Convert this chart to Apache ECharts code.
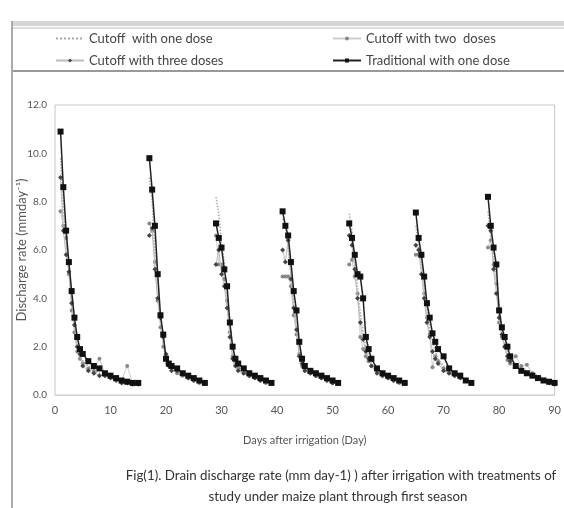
<!DOCTYPE html>
<html>
<head>
<meta charset="utf-8">
<script src="https://cdn.jsdelivr.net/npm/echarts@6/dist/echarts.min.js"></script>
<style>html,body{margin:0;padding:0;background:#fff;}#c{width:564px;height:508px;}</style>
</head>
<body>
<div id="c"></div>
<script>
// Days after irrigation; '-' entries in value arrays break the line between irrigation cycles
const days = [
  1,1.5,2,2.5,3,3.5,4,4.5,5,6,7,8,9,10,11,12,13,14,15, 16,
  17,17.5,18,18.5,19,19.5,20,20.5,21,22,23,24,25,26,27, 28,
  29,29.5,30,30.5,31,31.5,32,32.5,33,34,35,36,37,38,39, 40,
  41,41.5,42,42.5,43,43.5,44,44.5,45,46,47,48,49,50,51, 52,
  53,53.5,54,54.5,55,55.5,56,56.5,57,58,59,60,61,62,63, 64,
  65,65.5,66,66.5,67,67.5,68,68.5,69,70,71,72,73,74,75, 76.5,
  78,78.5,79,79.5,80,80.5,81,81.5,82,83,84,85,86,87,88,89,90
];
const cutoffOneDose = [
  9.8,7.6,6.3,5.2,4.0,2.8,2.0,1.6,1.4,1.2,1.0,0.9,0.8,0.7,0.6,0.55,0.5,0.5,0.5, '-',
  9.0,8.0,6.0,4.9,3.0,2.2,1.3,1.2,1.1,1.0,0.9,0.8,0.7,0.6,0.5, '-',
  8.2,7.5,6.3,5.5,4.0,2.8,1.8,1.4,1.2,1.0,0.9,0.8,0.7,0.6,0.5, '-',
  7.3,7.1,6.0,5.0,3.8,2.8,1.9,1.4,1.1,1.0,0.9,0.7,0.6,0.6,0.5, '-',
  7.5,6.8,5.5,4.4,3.4,2.6,2.0,1.6,1.3,1.0,0.9,0.8,0.7,0.6,0.5, '-',
  7.0,6.2,5.4,4.5,3.6,2.8,2.2,1.8,1.5,1.2,1.0,0.9,0.7,0.6,0.5, '-',
  7.6,6.5,5.8,4.8,3.8,2.6,2.2,1.8,1.5,1.3,1.1,1.0,0.9,0.8,0.7,0.6,0.5
];
const cutoffTwoDoses = [
  7.6,7.0,6.5,5.0,3.5,2.6,1.8,1.5,1.3,1.1,1.0,1.5,0.9,0.8,0.7,0.6,1.2,0.5,0.5, '-',
  7.1,6.8,5.5,3.9,2.8,2.0,1.6,1.3,1.2,0.9,0.8,0.7,0.6,0.5,0.5, '-',
  6.6,5.4,5.4,4.8,3.9,2.6,1.6,1.3,1.1,0.9,0.8,0.7,0.6,0.5,0.5, '-',
  4.9,4.9,4.9,4.5,3.3,2.5,1.7,1.2,1.0,0.9,0.8,0.7,0.6,0.5,0.5, '-',
  5.4,5.6,4.9,4.2,2.4,1.9,1.6,1.4,1.2,1.0,0.8,0.7,0.6,0.5,0.5, '-',
  5.8,5.8,5.8,4.2,3.2,2.5,1.15,1.6,1.4,1.1,0.9,0.8,0.7,0.6,0.5, '-',
  6.1,6.4,5.4,4.6,3.0,2.4,2.0,1.45,1.3,1.6,1.2,1.25,0.9,0.7,0.6,0.5,0.5
];
const cutoffThreeDoses = [
  9.0,6.8,5.8,5.1,3.8,2.9,2.0,1.7,1.2,1.0,0.9,0.8,0.8,0.7,0.6,0.5,0.5,0.45,0.45, '-',
  6.6,6.9,5.2,4.0,3.2,2.4,1.7,1.2,1.0,1.0,0.9,0.7,0.6,0.55,0.5, '-',
  5.4,6.0,5.0,4.5,3.6,2.4,1.5,1.2,1.0,0.9,0.8,0.7,0.6,0.6,0.5, '-',
  6.0,5.5,6.4,4.8,3.6,2.7,1.6,1.3,1.0,0.9,0.8,0.7,0.6,0.5,0.5, '-',
  6.6,6.2,5.2,4.0,3.0,2.3,1.8,1.5,1.2,0.9,0.8,0.7,0.6,0.6,0.5, '-',
  6.2,6.0,5.0,4.0,3.0,2.4,1.8,1.5,1.3,1.0,0.9,0.8,0.7,0.6,0.5, '-',
  7.0,6.8,5.2,4.2,3.2,2.5,2.0,1.6,1.4,1.2,1.0,0.9,0.8,0.7,0.6,0.5,0.45
];
const traditionalOneDose = [
  10.9,8.6,6.8,5.5,4.3,3.2,2.4,1.9,1.7,1.4,1.2,1.1,0.9,0.8,0.7,0.6,0.55,0.5,0.5, '-',
  9.8,8.5,7.0,5.0,3.3,2.5,1.5,1.3,1.2,1.1,0.9,0.8,0.7,0.6,0.5, '-',
  7.1,6.5,6.1,5.2,4.5,3.0,2.0,1.5,1.3,1.1,0.9,0.8,0.7,0.6,0.5, '-',
  7.6,7.0,6.6,5.5,4.3,3.5,2.2,1.5,1.2,1.0,0.9,0.8,0.7,0.6,0.5, '-',
  7.1,6.5,5.8,5.0,4.9,4.0,2.4,1.9,1.5,1.1,0.9,0.8,0.7,0.6,0.5, '-',
  7.55,6.5,5.8,4.9,3.8,3.2,2.55,2.2,1.9,1.6,1.1,0.9,0.8,0.6,0.5, '-',
  8.2,7.0,6.1,5.4,3.5,2.8,2.4,2.0,1.6,1.2,1.0,0.9,0.8,0.7,0.6,0.55,0.5
];
const seriesNames = ['Cutoff  with one dose', 'Cutoff with two  doses', 'Cutoff with three doses', 'Traditional with one dose'];
const yTicks = [0, 2, 4, 6, 8, 10, 12];
const xTicks = [0, 10, 20, 30, 40, 50, 60, 70, 80, 90];
const captionLines = [
  'Fig(1). Drain discharge rate (mm day-1) ) after irrigation with treatments of',
  'study under maize plant through first season'
];

const zip = arr => days.map((d, i) => [d, arr[i]]);
const FONT = 'Lato';

const chart = echarts.init(document.getElementById('c'), null, {renderer: 'canvas'});
const legendBase = {
  itemWidth: 28, itemHeight: 5, itemGap: 10, padding: 0,
  textStyle: {fontFamily: FONT, fontSize: 13, color: '#444'},
  selectedMode: false
};
chart.setOption({
  animation: false,
  backgroundColor: '#fff',
  grid: {left: 55, right: 8, top: 105, bottom: 113, show: true, borderColor: '#c8c8c8', borderWidth: 1},
  legend: [
    Object.assign({}, legendBase, {left: 55, top: 32, data: [seriesNames[0]], itemStyle: {opacity: 0}}),
    Object.assign({}, legendBase, {left: 332, top: 32, data: [seriesNames[1]]}),
    Object.assign({}, legendBase, {left: 55, top: 54, data: [seriesNames[2]]}),
    Object.assign({}, legendBase, {left: 332, top: 54, data: [seriesNames[3]]})
  ],
  xAxis: {
    type: 'value', min: xTicks[0], max: xTicks[xTicks.length - 1], interval: 10,
    name: 'Days after irrigation (Day)', nameLocation: 'middle', nameGap: 40, nameMoveOverlap: false,
    nameTextStyle: {fontFamily: FONT, fontSize: 11, color: '#555'},
    axisLine: {show: true, lineStyle: {color: '#d0d0d0'}},
    axisTick: {show: false},
    splitLine: {show: false},
    axisLabel: {fontFamily: FONT, fontSize: 11, color: '#555', margin: 10}
  },
  yAxis: {
    type: 'value', min: yTicks[0], max: yTicks[yTicks.length - 1], interval: 2,
    name: 'Discharge rate (mmday\u207B\u00B9)', nameLocation: 'middle', nameGap: 27, nameMoveOverlap: false,
    nameTextStyle: {fontFamily: FONT, fontSize: 13, color: '#555'},
    axisLine: {show: false}, axisTick: {show: false}, splitLine: {show: false},
    axisLabel: {fontFamily: FONT, fontSize: 10, color: '#555', margin: 8, formatter: v => v.toFixed(1)}
  },
  series: [
    {
      name: seriesNames[0], type: 'line', data: zip(cutoffOneDose), connectNulls: false,
      symbol: 'none', color: '#aaa',
      lineStyle: {type: 'dotted', width: 1.5, color: '#aaa'}, z: 2
    },
    {
      name: seriesNames[1], type: 'line', data: zip(cutoffTwoDoses), connectNulls: false,
      symbol: 'circle', symbolSize: 4, color: '#888',
      itemStyle: {color: '#888'}, lineStyle: {width: 1, color: '#ccc'}, z: 3
    },
    {
      name: seriesNames[2], type: 'line', data: zip(cutoffThreeDoses), connectNulls: false,
      symbol: 'diamond', symbolSize: 5, color: '#444',
      itemStyle: {color: '#444'}, lineStyle: {width: 1, color: '#bbb'}, z: 4
    },
    {
      name: seriesNames[3], type: 'line', data: zip(traditionalOneDose), connectNulls: false,
      symbol: 'rect', symbolSize: 6, color: '#111',
      itemStyle: {color: '#111'}, lineStyle: {width: 1.5, color: '#222'}, z: 5
    }
  ],
  graphic: [
    {type: 'rect', shape: {x: 12, y: 21, width: 560, height: 5}, style: {fill: '#d6d6d6'}, silent: true},
    {type: 'line', shape: {x1: 12, y1: 28, x2: 570, y2: 28}, style: {stroke: '#bbb', lineWidth: 1}, silent: true},
    {type: 'line', shape: {x1: 12, y1: 71, x2: 570, y2: 71}, style: {stroke: '#999', lineWidth: 2}, silent: true},
    {type: 'line', shape: {x1: 12, y1: 21, x2: 12, y2: 508}, style: {stroke: '#aaa', lineWidth: 2}, silent: true},
    {type: 'text', x: 341, y: 469, style: {text: captionLines[0], fontFamily: FONT, fontSize: 13.3, fill: '#333', textAlign: 'center'}, silent: true},
    {type: 'text', x: 338, y: 490, style: {text: captionLines[1], fontFamily: FONT, fontSize: 13.3, fill: '#333', textAlign: 'center'}, silent: true}
  ]
});
</script>
</body>
</html>
